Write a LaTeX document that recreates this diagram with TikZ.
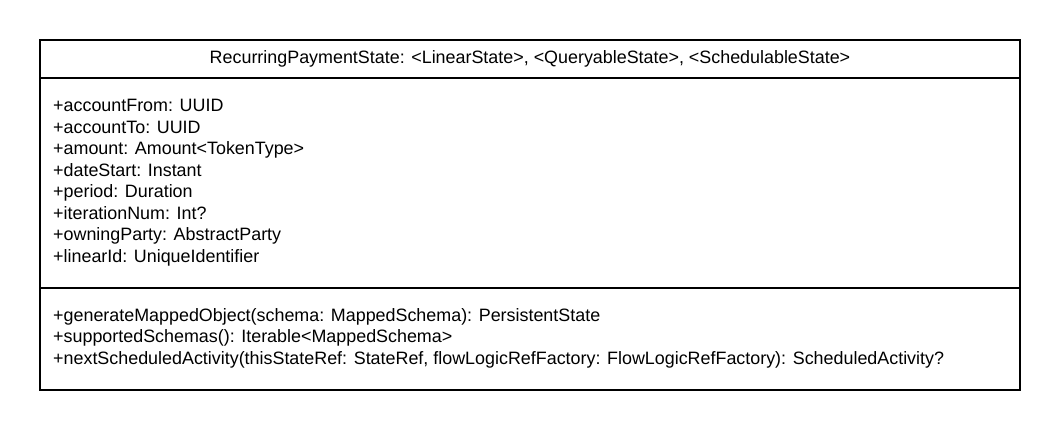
\documentclass[tikz,border=0pt]{standalone}
\usepackage{fontspec}
\setmainfont{Liberation Sans}
\begin{document}
\begin{tikzpicture}[x=1pt,y=-1pt,
  umltext/.style={inner sep=0pt,anchor=base west,font=\fontsize{17.9}{21}\selectfont},
  umltitle/.style={inner sep=0pt,anchor=base,font=\fontsize{17.9}{21}\selectfont},
  frame/.style={draw=black,line width=2pt}]
  \useasboundingbox (0,0) rectangle (1060,430);
  % class box and compartment separators
  \draw[frame] (40,40) rectangle (1020,389.5);
  \draw[frame] (40,77.7) -- (1020,77.7);
  \draw[frame] (40,288) -- (1020,288);
  % class name
  \node[umltitle] (title) at (530,63.3) {RecurringPaymentState: <LinearState>, <QueryableState>, <SchedulableState>};
  % attributes
  \node[umltext] (a1) at (53,111.6) {+accountFrom: UUID};
  \node[umltext] (a2) at (53,133.1) {+accountTo: UUID};
  \node[umltext] (a3) at (53,154.7) {+amount: Amount<TokenType>};
  \node[umltext] (a4) at (53,176.2) {+dateStart: Instant};
  \node[umltext] (a5) at (53,197.8) {+period: Duration};
  \node[umltext] (a6) at (53,219.3) {+iterationNum: Int?};
  \node[umltext] (a7) at (53,240.9) {+owningParty: AbstractParty};
  \node[umltext] (a8) at (53,262.4) {+linearId: UniqueIdentifier};
  % operations
  \node[umltext] (m1) at (53,321) {+generateMappedObject(schema: MappedSchema): PersistentState};
  \node[umltext] (m2) at (53,342.6) {+supportedSchemas(): Iterable<MappedSchema>};
  \node[umltext] (m3) at (53,364.2) {+nextScheduledActivity(thisStateRef: StateRef, flowLogicRefFactory: FlowLogicRefFactory): ScheduledActivity?};
\end{tikzpicture}
\end{document}
